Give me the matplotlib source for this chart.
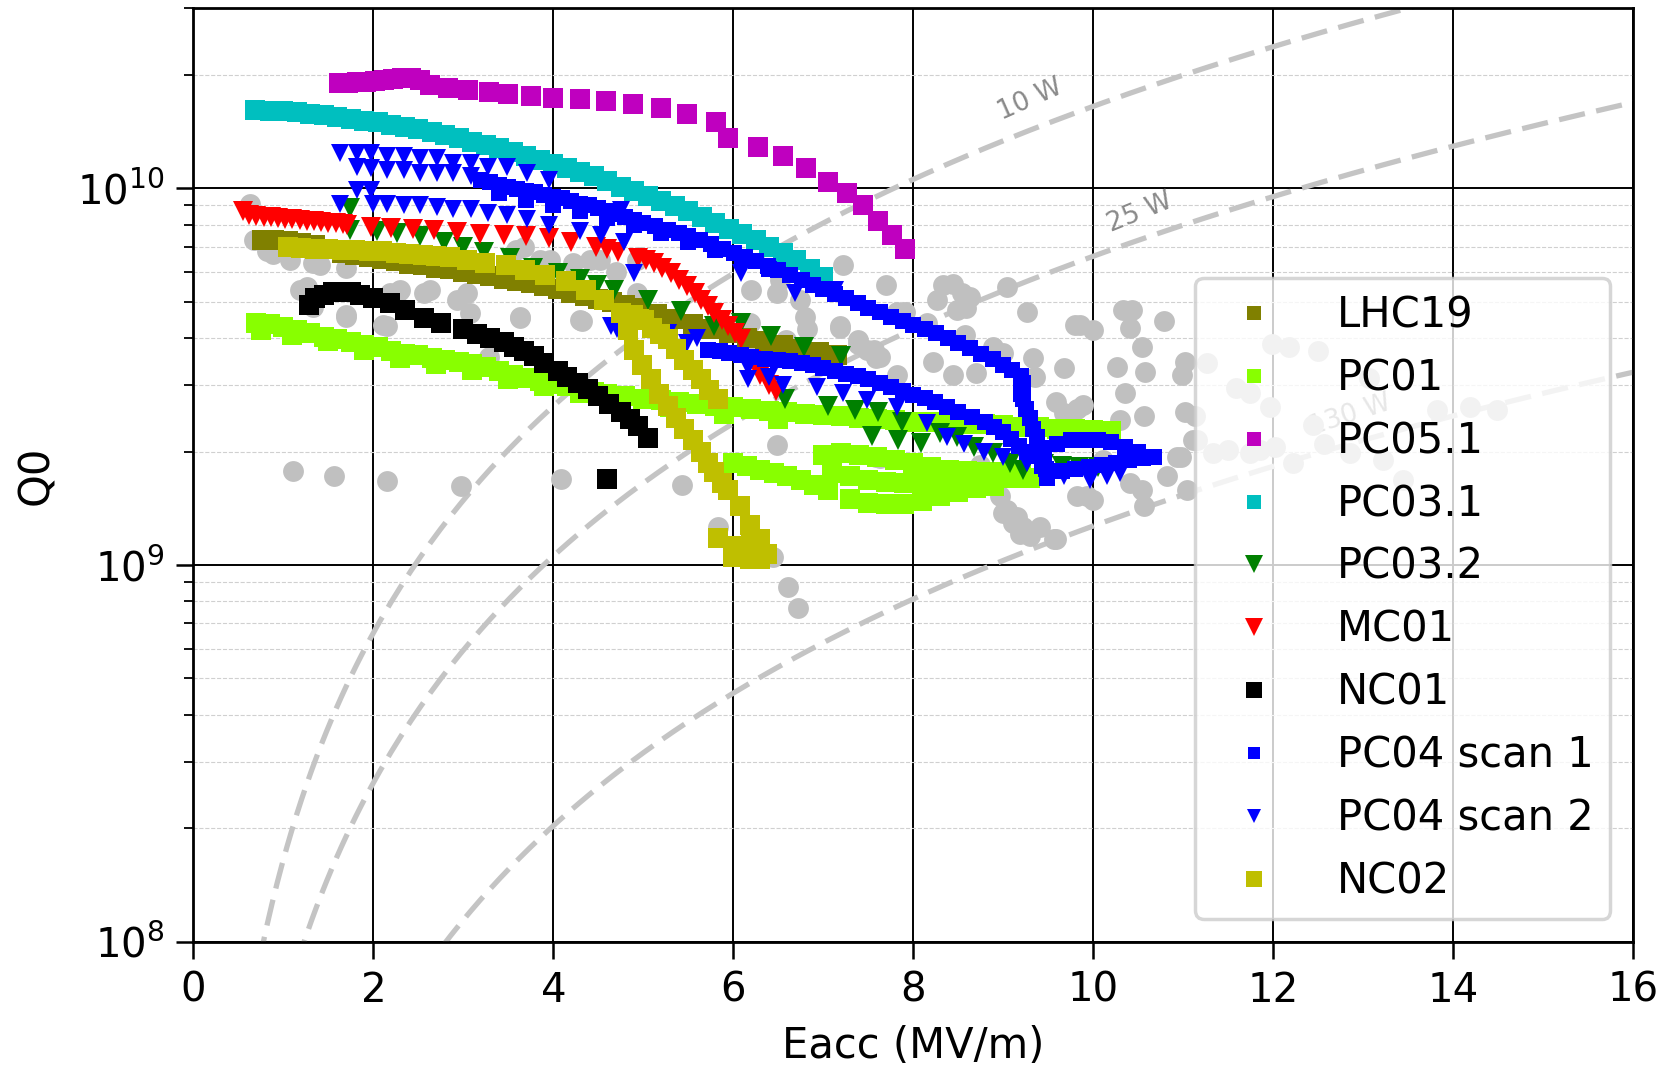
import numpy as np
import matplotlib
matplotlib.use("Agg")
import matplotlib.pyplot as plt

# Datos: pares (Eacc en MV/m, Q0 en unidades de 1e9)
gris = [(0.63, 9.1), (0.67, 7.3), (0.82, 6.8), (0.89, 6.7), (1.07, 6.45), (1.33, 6.33), (1.41, 6.25),
        (1.19, 5.37), (1.26, 5.48), (1.70, 6.13), (1.70, 4.56), (2.19, 5.26), (2.30, 5.37), (2.15, 4.30),
        (2.56, 5.26), (2.63, 5.37), (2.93, 5.06), (3.04, 5.26), (3.07, 4.66), (3.59, 6.86), (3.67, 6.97),
        (3.85, 6.45), (3.96, 6.45), (3.63, 4.56), (4.22, 6.33), (4.41, 6.45), (4.52, 6.45), (4.93, 6.45),
        (4.30, 4.47), (4.70, 6.0), (4.93, 5.26), (1.33, 4.85), (1.70, 4.62), (2.11, 4.33), (2.28, 5.32),
        (3.28, 3.57), (3.63, 4.52), (4.32, 4.43), (4.89, 4.85), (4.96, 6.57),
        (1.11, 1.78), (1.56, 1.72), (2.15, 1.67), (2.97, 1.62), (4.08, 1.69),
        (5.43, 1.63), (5.83, 1.26), (6.44, 1.05), (6.61, 0.876), (6.72, 0.768), (6.48, 2.08),
        (6.20, 5.37), (6.48, 5.26), (6.52, 5.7), (6.80, 4.56), (7.19, 4.30), (7.39, 3.95), (7.48, 3.72),
        (7.63, 3.57), (7.56, 3.72), (7.85, 4.66), (7.22, 6.25), (7.70, 5.55), (6.74, 5.06), (6.82, 4.22),
        (6.19, 4.39), (6.59, 3.95), (6.22, 3.72), (7.82, 4.70), (7.91, 4.70), (7.19, 4.25), (7.39, 3.87),
        (7.59, 3.54), (7.82, 3.19), (8.15, 4.39), (8.26, 5.06), (8.33, 5.53), (8.44, 5.58), (8.54, 5.26),
        (8.63, 5.15), (8.48, 4.75), (8.59, 4.80), (9.04, 5.48), (9.26, 4.70), (8.57, 4.08), (8.89, 3.80),
        (9.0, 3.65), (9.33, 3.54), (8.22, 3.46), (8.44, 3.19), (8.70, 3.23), (9.35, 3.16), (9.67, 3.33),
        (9.80, 4.33), (9.85, 4.33), (10.0, 4.2), (10.33, 4.75), (10.43, 4.75), (10.41, 4.25), (10.78, 4.43),
        (10.54, 3.80), (10.26, 3.36), (10.57, 3.26), (10.35, 2.86), (10.56, 2.48), (10.30, 2.43),
        (9.59, 2.71), (9.82, 2.60), (9.89, 2.66), (9.67, 2.53), (11.02, 3.46), (10.98, 3.19), (11.26, 3.43),
        (11.02, 2.55), (11.13, 2.48), (11.15, 2.15), (10.93, 1.94), (10.97, 1.94), (10.82, 1.72),
        (11.04, 1.58), (10.41, 1.65), (10.54, 1.58), (10.56, 1.43), (9.93, 1.52), (10.0, 1.49),
        (8.96, 1.52), (9.04, 1.40), (9.15, 1.34), (9.22, 1.26), (9.30, 1.19), (9.41, 1.26), (9.59, 1.17),
        (8.74, 1.84), (7.59, 1.94), (10.11, 1.90), (9.0, 1.37), (9.11, 1.29), (9.19, 1.21), (9.56, 1.17),
        (9.82, 1.52), (7.63, 1.92),
        (11.59, 2.95), (11.74, 2.86), (11.96, 2.63), (11.98, 3.87), (12.17, 3.80), (12.5, 3.69),
        (12.44, 2.35), (13.06, 3.13), (13.82, 2.58), (14.19, 2.63), (14.48, 2.58), (12.02, 2.06),
        (11.85, 2.02), (11.74, 1.98), (11.50, 2.02), (11.33, 1.98), (11.11, 2.15), (12.22, 1.86),
        (12.56, 2.10), (12.85, 1.98), (13.22, 1.90), (13.44, 1.68)]

lhc19_e = [0.76, 0.9, 1.05, 1.2, 1.35, 1.5, 1.65, 1.8, 1.95, 2.1, 2.25, 2.4, 2.55, 2.7, 2.85, 3.0, 3.15,
           3.3, 3.45, 3.6, 3.75, 3.9, 4.05, 4.2, 4.35, 4.5, 4.65, 4.8, 4.95, 5.15, 5.35, 5.55, 5.75, 5.95,
           6.15, 6.35, 6.55, 6.75, 6.95, 7.15]
lhc19_q = [7.3, 7.3, 7.25, 7.15, 7.05, 6.9, 6.75, 6.65, 6.55, 6.5, 6.4, 6.3, 6.25, 6.15, 6.1, 6.0, 5.92,
           5.85, 5.75, 5.68, 5.6, 5.5, 5.4, 5.28, 5.17, 5.07, 4.98, 4.9, 4.81, 4.65, 4.5, 4.36, 4.24, 4.12,
           4.0, 3.92, 3.83, 3.75, 3.68, 3.61]

pc01 = [(0.7, 4.40), (0.85, 4.35), (1.0, 4.28), (1.15, 4.2), (1.3, 4.12), (1.45, 4.04), (1.6, 3.97),
        (1.75, 3.9), (1.9, 3.84), (2.05, 3.78), (2.2, 3.7), (2.35, 3.64), (2.5, 3.6), (2.65, 3.55),
        (2.8, 3.5), (2.95, 3.45), (3.1, 3.41), (3.25, 3.35), (3.4, 3.28), (3.55, 3.2), (3.7, 3.14),
        (3.85, 3.08), (4.0, 3.03), (4.15, 2.98), (4.3, 2.93), (4.45, 2.88), (4.6, 2.84), (4.8, 2.8),
        (5.0, 2.76), (5.2, 2.74), (5.4, 2.71), (5.6, 2.68), (5.8, 2.65), (6.0, 2.62), (6.2, 2.6),
        (6.4, 2.57), (6.6, 2.55), (6.8, 2.52), (7.0, 2.5), (7.2, 2.48), (7.4, 2.46), (7.6, 2.44),
        (7.8, 2.42), (8.0, 2.4), (8.2, 2.39), (8.4, 2.38), (8.6, 2.37), (8.8, 2.36), (9.0, 2.35),
        (9.2, 2.33), (9.4, 2.32), (9.6, 2.3), (9.8, 2.29), (10.0, 2.28), (10.2, 2.27),
        (0.75, 4.2), (1.1, 4.08), (1.5, 3.92), (1.9, 3.72), (2.3, 3.55), (2.7, 3.42), (3.1, 3.3),
        (3.5, 3.12), (3.9, 2.98), (4.3, 2.86), (4.7, 2.74), (5.3, 2.62), (5.9, 2.52), (6.5, 2.44),
        (6.0, 1.86), (6.15, 1.83), (6.3, 1.79), (6.45, 1.75), (6.6, 1.72), (6.75, 1.68), (6.9, 1.63),
        (7.05, 1.58),
        (7.0, 1.96), (7.2, 1.98), (7.4, 1.96), (7.6, 1.94), (7.8, 1.9), (8.0, 1.86), (8.2, 1.82),
        (8.4, 1.79), (8.6, 1.78), (8.8, 1.77), (9.0, 1.77), (9.2, 1.76),
        (7.1, 1.75), (7.3, 1.72), (7.5, 1.68), (7.7, 1.66), (7.9, 1.65), (8.1, 1.66), (8.3, 1.68),
        (8.5, 1.7), (8.7, 1.7), (8.9, 1.7), (9.1, 1.7), (9.3, 1.7),
        (7.3, 1.5), (7.5, 1.46), (7.7, 1.45), (7.9, 1.45), (8.1, 1.48), (8.3, 1.52), (8.5, 1.56),
        (8.7, 1.6), (8.9, 1.62)]

pc05 = [(1.62, 19.0), (1.72, 19.0), (1.82, 19.1), (1.92, 19.2), (2.02, 19.3), (2.12, 19.4), (2.22, 19.5),
        (2.32, 19.6), (2.42, 19.6), (2.52, 19.4), (2.63, 18.8), (2.83, 18.5), (3.05, 18.2), (3.28, 18.0),
        (3.50, 17.8), (3.75, 17.6), (4.00, 17.4), (4.30, 17.2), (4.59, 17.0), (4.88, 16.7), (5.20, 16.3),
        (5.49, 15.7), (5.81, 15.0), (5.94, 13.6), (6.27, 12.9), (6.55, 12.2), (6.81, 11.3), (7.05, 10.4),
        (7.26, 9.7), (7.44, 9.0), (7.61, 8.2), (7.76, 7.5), (7.91, 6.9)]

pc031_e = [0.69, 0.85, 1.0, 1.15, 1.3, 1.45, 1.6, 1.75, 1.9, 2.05, 2.2, 2.35, 2.5, 2.65, 2.8, 2.95, 3.1,
           3.25, 3.4, 3.55, 3.7, 3.85, 4.0, 4.15, 4.3, 4.45, 4.6, 4.75, 4.9, 5.05, 5.2, 5.35, 5.5, 5.65,
           5.8, 5.95, 6.1, 6.25, 6.4, 6.55, 6.7, 6.85, 7.0]
pc031_q = [16.1, 16.05, 16.0, 15.9, 15.75, 15.6, 15.45, 15.3, 15.1, 14.95, 14.75, 14.55, 14.35, 14.1,
           13.85, 13.6, 13.3, 13.0, 12.75, 12.45, 12.15, 11.9, 11.6, 11.35, 11.05, 10.75, 10.45, 10.1,
           9.85, 9.55, 9.25, 8.95, 8.7, 8.4, 8.1, 7.8, 7.55, 7.3, 7.0, 6.75, 6.45, 6.1, 5.8]

pc032 = [(1.74, 8.87), (1.74, 7.76), (2.04, 7.68), (2.26, 7.61), (2.52, 7.45), (2.78, 7.22), (3.00, 7.00),
         (3.23, 6.79), (3.52, 6.53), (3.77, 6.14), (4.05, 5.96), (4.30, 5.75), (4.49, 5.55), (4.67, 5.38),
         (5.05, 5.06), (5.42, 4.72), (5.79, 4.30), (6.09, 4.40), (6.42, 4.05), (6.79, 3.80), (7.20, 3.58),
         (6.57, 2.75), (7.05, 2.64), (7.35, 2.58), (7.61, 2.54), (7.87, 2.39), (7.54, 2.20), (7.83, 2.15),
         (8.09, 2.11), (8.30, 2.24), (8.48, 2.19), (8.67, 2.06), (8.89, 1.98), (9.07, 1.86), (9.22, 1.79),
         (9.45, 1.85), (9.65, 1.83), (9.84, 1.82), (10.05, 1.82)]

mc01 = [(0.55, 8.7), (0.62, 8.5), (0.70, 8.45), (0.78, 8.4), (0.86, 8.4), (0.94, 8.35), (1.02, 8.3),
        (1.10, 8.3), (1.18, 8.25), (1.26, 8.2), (1.34, 8.2), (1.42, 8.15), (1.50, 8.1), (1.58, 8.1),
        (1.66, 8.05), (1.71, 8.0), (1.97, 7.9), (2.20, 7.85), (2.44, 7.8), (2.67, 7.75), (2.93, 7.65),
        (3.19, 7.55), (3.45, 7.5), (3.70, 7.45), (3.95, 7.37), (4.20, 7.2), (4.47, 7.0), (4.60, 6.9),
        (4.72, 6.79), (4.94, 6.53), (5.03, 6.43), (5.12, 6.33), (5.21, 6.15), (5.31, 5.96), (5.40, 5.72),
        (5.49, 5.49), (5.57, 5.27), (5.64, 5.06), (5.72, 4.86), (5.79, 4.67), (5.87, 4.48), (5.94, 4.30),
        (6.02, 4.12), (6.09, 3.97), (6.20, 3.5), (6.30, 3.2), (6.40, 3.0), (6.47, 2.9)]

nc01_e = [1.28, 1.35, 1.45, 1.55, 1.65, 1.75, 1.85, 2.00, 2.19, 2.35, 2.56, 2.75, 3.00, 3.15, 3.30, 3.45,
          3.56, 3.67, 3.78, 3.90, 4.05, 4.15, 4.27, 4.38, 4.50, 4.62, 4.75, 4.85, 4.94, 5.05, 4.60]
nc01_q = [4.9, 5.1, 5.2, 5.3, 5.3, 5.3, 5.2, 5.1, 4.96, 4.75, 4.53, 4.4, 4.22, 4.1, 4.0, 3.9, 3.80, 3.7,
          3.58, 3.43, 3.27, 3.15, 3.05, 2.93, 2.81, 2.67, 2.54, 2.44, 2.34, 2.17, 1.69]

scan1 = [(3.2, 10.5), (3.3, 10.4), (3.4, 10.2), (3.5, 10.1), (3.6, 9.95), (3.7, 9.85), (3.8, 9.75),
         (3.9, 9.6), (4.0, 9.5), (4.1, 9.4), (4.2, 9.25), (4.3, 9.1), (4.4, 9.0), (4.5, 8.85), (4.6, 8.7),
         (4.7, 8.55), (4.8, 8.4), (4.9, 8.25), (5.0, 8.1), (5.13, 7.95), (5.27, 7.76), (5.4, 7.6),
         (5.5, 7.45), (5.63, 7.3), (5.75, 7.1), (5.88, 6.9), (6.01, 6.73), (6.13, 6.55), (6.25, 6.4),
         (6.38, 6.2), (6.5, 6.05), (6.63, 5.9), (6.76, 5.72), (6.88, 5.55), (7.0, 5.4), (7.13, 5.25),
         (7.25, 5.1), (7.38, 4.95), (7.5, 4.82), (7.63, 4.68), (7.75, 4.56), (7.88, 4.44), (8.0, 4.33),
         (8.13, 4.22), (8.25, 4.12), (8.38, 4.0), (8.5, 3.88), (8.63, 3.76), (8.75, 3.64), (8.88, 3.52),
         (9.0, 3.4), (9.1, 3.3), (9.2, 3.18),
         (3.4, 9.7), (3.7, 9.3), (4.0, 9.0), (4.3, 8.7), (4.6, 8.35), (4.9, 8.0), (5.2, 7.6), (5.5, 7.2),
         (5.8, 6.85), (6.1, 6.5), (6.4, 6.1),
         (9.22, 3.05), (9.2, 2.95), (9.2, 2.85), (9.22, 2.75), (9.25, 2.6), (9.3, 2.45), (9.33, 2.3),
         (9.37, 2.18), (9.42, 2.05), (9.45, 1.92), (9.47, 1.8), (9.48, 1.7),
         (9.6, 2.1), (9.75, 2.15), (9.9, 2.15), (10.05, 2.15), (10.2, 2.12), (10.35, 2.06), (10.5, 2.0),
         (10.67, 1.94), (9.5, 1.78), (9.65, 1.78), (9.8, 1.8), (9.95, 1.82), (10.1, 1.84), (10.25, 1.86),
         (10.4, 1.9), (10.55, 1.92),
         (5.72, 3.73), (5.85, 3.69), (5.95, 3.65), (6.08, 3.61), (6.2, 3.57), (6.35, 3.53), (6.5, 3.5),
         (6.63, 3.47), (6.76, 3.44), (6.88, 3.39), (7.0, 3.33), (7.13, 3.28), (7.25, 3.22), (7.38, 3.17),
         (7.5, 3.11), (7.63, 3.04), (7.75, 2.97), (7.88, 2.9), (8.0, 2.83), (8.13, 2.77), (8.24, 2.70),
         (8.37, 2.62), (8.5, 2.55), (8.65, 2.47), (8.8, 2.39), (8.9, 2.32), (9.0, 2.25), (9.08, 2.16),
         (9.17, 2.07), (9.26, 2.0), (9.35, 1.95), (9.43, 1.83)]

scan2 = [(1.63, 12.4), (1.82, 12.4), (1.97, 12.4), (2.15, 12.2), (2.34, 12.2), (2.52, 12.0), (2.71, 12.0),
         (2.89, 11.7), (3.08, 11.7), (3.27, 11.4), (3.49, 11.4), (3.71, 11.0), (3.95, 10.5),
         (1.82, 11.4), (1.97, 11.3), (2.15, 11.2), (2.34, 11.2), (2.52, 11.0), (2.71, 11.0), (2.89, 11.0),
         (3.08, 10.8), (1.82, 9.9), (1.97, 9.9),
         (1.63, 9.1), (2.0, 9.1), (2.15, 9.1), (2.34, 9.0), (2.52, 9.0), (2.71, 8.9), (2.89, 8.8),
         (3.08, 8.8), (3.27, 8.6), (3.49, 8.5), (3.71, 8.3), (3.95, 8.0), (4.30, 7.7), (4.53, 7.5),
         (4.79, 7.2), (4.75, 8.76), (6.09, 5.96), (6.68, 5.27), (7.13, 5.38),
         (4.64, 4.3), (4.71, 4.22), (4.90, 5.96), (5.23, 4.1), (5.27, 4.14), (5.49, 3.88), (5.6, 4.0),
         (6.16, 3.11), (6.16, 3.36), (6.4, 3.15), (6.55, 3.0), (6.93, 2.97), (7.22, 2.86), (7.48, 2.74),
         (7.82, 2.63), (8.15, 2.38), (8.37, 2.19), (8.56, 2.10), (8.78, 2.0), (9.0, 1.93), (9.26, 1.86),
         (9.67, 1.72), (9.96, 1.68), (10.15, 1.72), (10.3, 1.75)]

nc02 = [(1.05, 7.0), (1.2, 6.95), (1.35, 6.9), (1.5, 6.9), (1.65, 6.85), (1.8, 6.85), (1.95, 6.8),
        (2.1, 6.8), (2.25, 6.75), (2.4, 6.7), (2.55, 6.65), (2.7, 6.6), (2.85, 6.55), (3.04, 6.45),
        (3.24, 6.33), (3.47, 6.27), (3.69, 6.08), (3.91, 5.89), (4.14, 5.66), (4.36, 5.38), (4.56, 5.06),
        (4.75, 4.67),
        (4.83, 4.2), (4.90, 3.73), (4.99, 3.4), (5.08, 3.11), (5.17, 2.85), (5.27, 2.64), (5.36, 2.45),
        (5.45, 2.29), (5.55, 2.14), (5.64, 2.0), (5.72, 1.87), (5.79, 1.76), (5.87, 1.65), (5.94, 1.58),
        (6.07, 1.43), (6.19, 1.28), (6.30, 1.17), (6.37, 1.07),
        (4.88, 4.6), (4.95, 4.5), (5.01, 4.48), (5.1, 4.25), (5.18, 4.1), (5.27, 3.97), (5.36, 3.75),
        (5.45, 3.51), (5.55, 3.3), (5.64, 3.11), (5.73, 2.92), (5.83, 2.75),
        (6.0, 1.05), (6.1, 1.05), (6.19, 1.04), (6.3, 1.04), (6.05, 1.12), (6.2, 1.15), (5.83, 1.18)]

# Curvas de potencia disipada constante: Q0 = K * Eacc^2 / P
K_POTENCIA = 1.65e9
potencias = [10, 25, 130]
etiquetas_pot = ["10 W", "25 W", "130 W"]
pos_etiquetas = [(9.3, 17.2e9, 24), (10.52, 8.6e9, 22), (12.85, 2.5e9, 18)]


def separar(pares):
    e = np.array([p[0] for p in pares])
    q = np.array([p[1] for p in pares]) * 1e9
    return e, q


fig = plt.figure(figsize=(16.68, 10.74), dpi=100)
ax = fig.add_axes([0.1159, 0.1232, 0.8633, 0.8689])

eje = np.linspace(0.05, 16.5, 300)
for p in potencias:
    ax.plot(eje, K_POTENCIA * eje ** 2 / p, color="#c4c4c4", lw=3.8, dashes=(5, 2.2), zorder=1.8)
for txt, (xe, ye, rot) in zip(etiquetas_pot, pos_etiquetas):
    ax.text(xe, ye, txt, rotation=rot, color="#8a8a8a", fontsize=19, ha="center", va="center",
            rotation_mode="anchor", zorder=1.9)

estilo = dict(ls="none", mew=0)
e, q = separar(gris)
ax.plot(e, q, marker="o", ms=15, color="#c0c0c0", **estilo)

series = [
    ("LHC19", (np.array(lhc19_e), np.array(lhc19_q) * 1e9), "s", 14, "olive"),
    ("PC01", separar(pc01), "s", 14, "#88ff00"),
    ("PC05.1", separar(pc05), "s", 14, "m"),
    ("PC03.1", (np.array(pc031_e), np.array(pc031_q) * 1e9), "s", 14, "c"),
    ("PC03.2", separar(pc032), "v", 15, "g"),
    ("MC01", separar(mc01), "v", 15, "r"),
    ("NC01", (np.array(nc01_e), np.array(nc01_q) * 1e9), "s", 14, "k"),
    ("PC04 scan 1", separar(scan1), "s", 12, "b"),
    ("PC04 scan 2", separar(scan2), "v", 13, "b"),
    ("NC02", separar(nc02), "s", 14, "y"),
]
for nombre, (e, q), marcador, tam, color in series:
    ax.plot(e, q, marker=marcador, ms=tam, color=color, label=nombre, **estilo)

ax.set_yscale("log")
ax.set_xlim(0, 16)
ax.set_ylim(1e8, 3e10)
ax.set_xticks(range(0, 17, 2))

ax.grid(True, which="major", color="black", lw=1.4)
ax.grid(True, which="minor", axis="y", color="#d0d0d0", ls="--", lw=0.8)
ax.tick_params(which="major", length=12, width=1.8, labelsize=29, pad=9)
ax.tick_params(which="minor", length=6.5, width=1.3)
for s in ax.spines.values():
    s.set_linewidth(2)

ax.set_xlabel("Eacc (MV/m)", fontsize=30, labelpad=10)
ax.set_ylabel("Q0", fontsize=30, labelpad=14)

leg = ax.legend(loc="lower right", fontsize=30, labelspacing=0.5, framealpha=0.8,
                handletextpad=1.0, borderaxespad=0.55)
leg.get_frame().set_linewidth(2.5)
tam_leyenda = [10, 10, 10, 10, 13, 13, 11, 8, 10, 11]
for h, t in zip(leg.legend_handles, tam_leyenda):
    h.set_markersize(t)

fig.savefig("out.png", dpi=100)
